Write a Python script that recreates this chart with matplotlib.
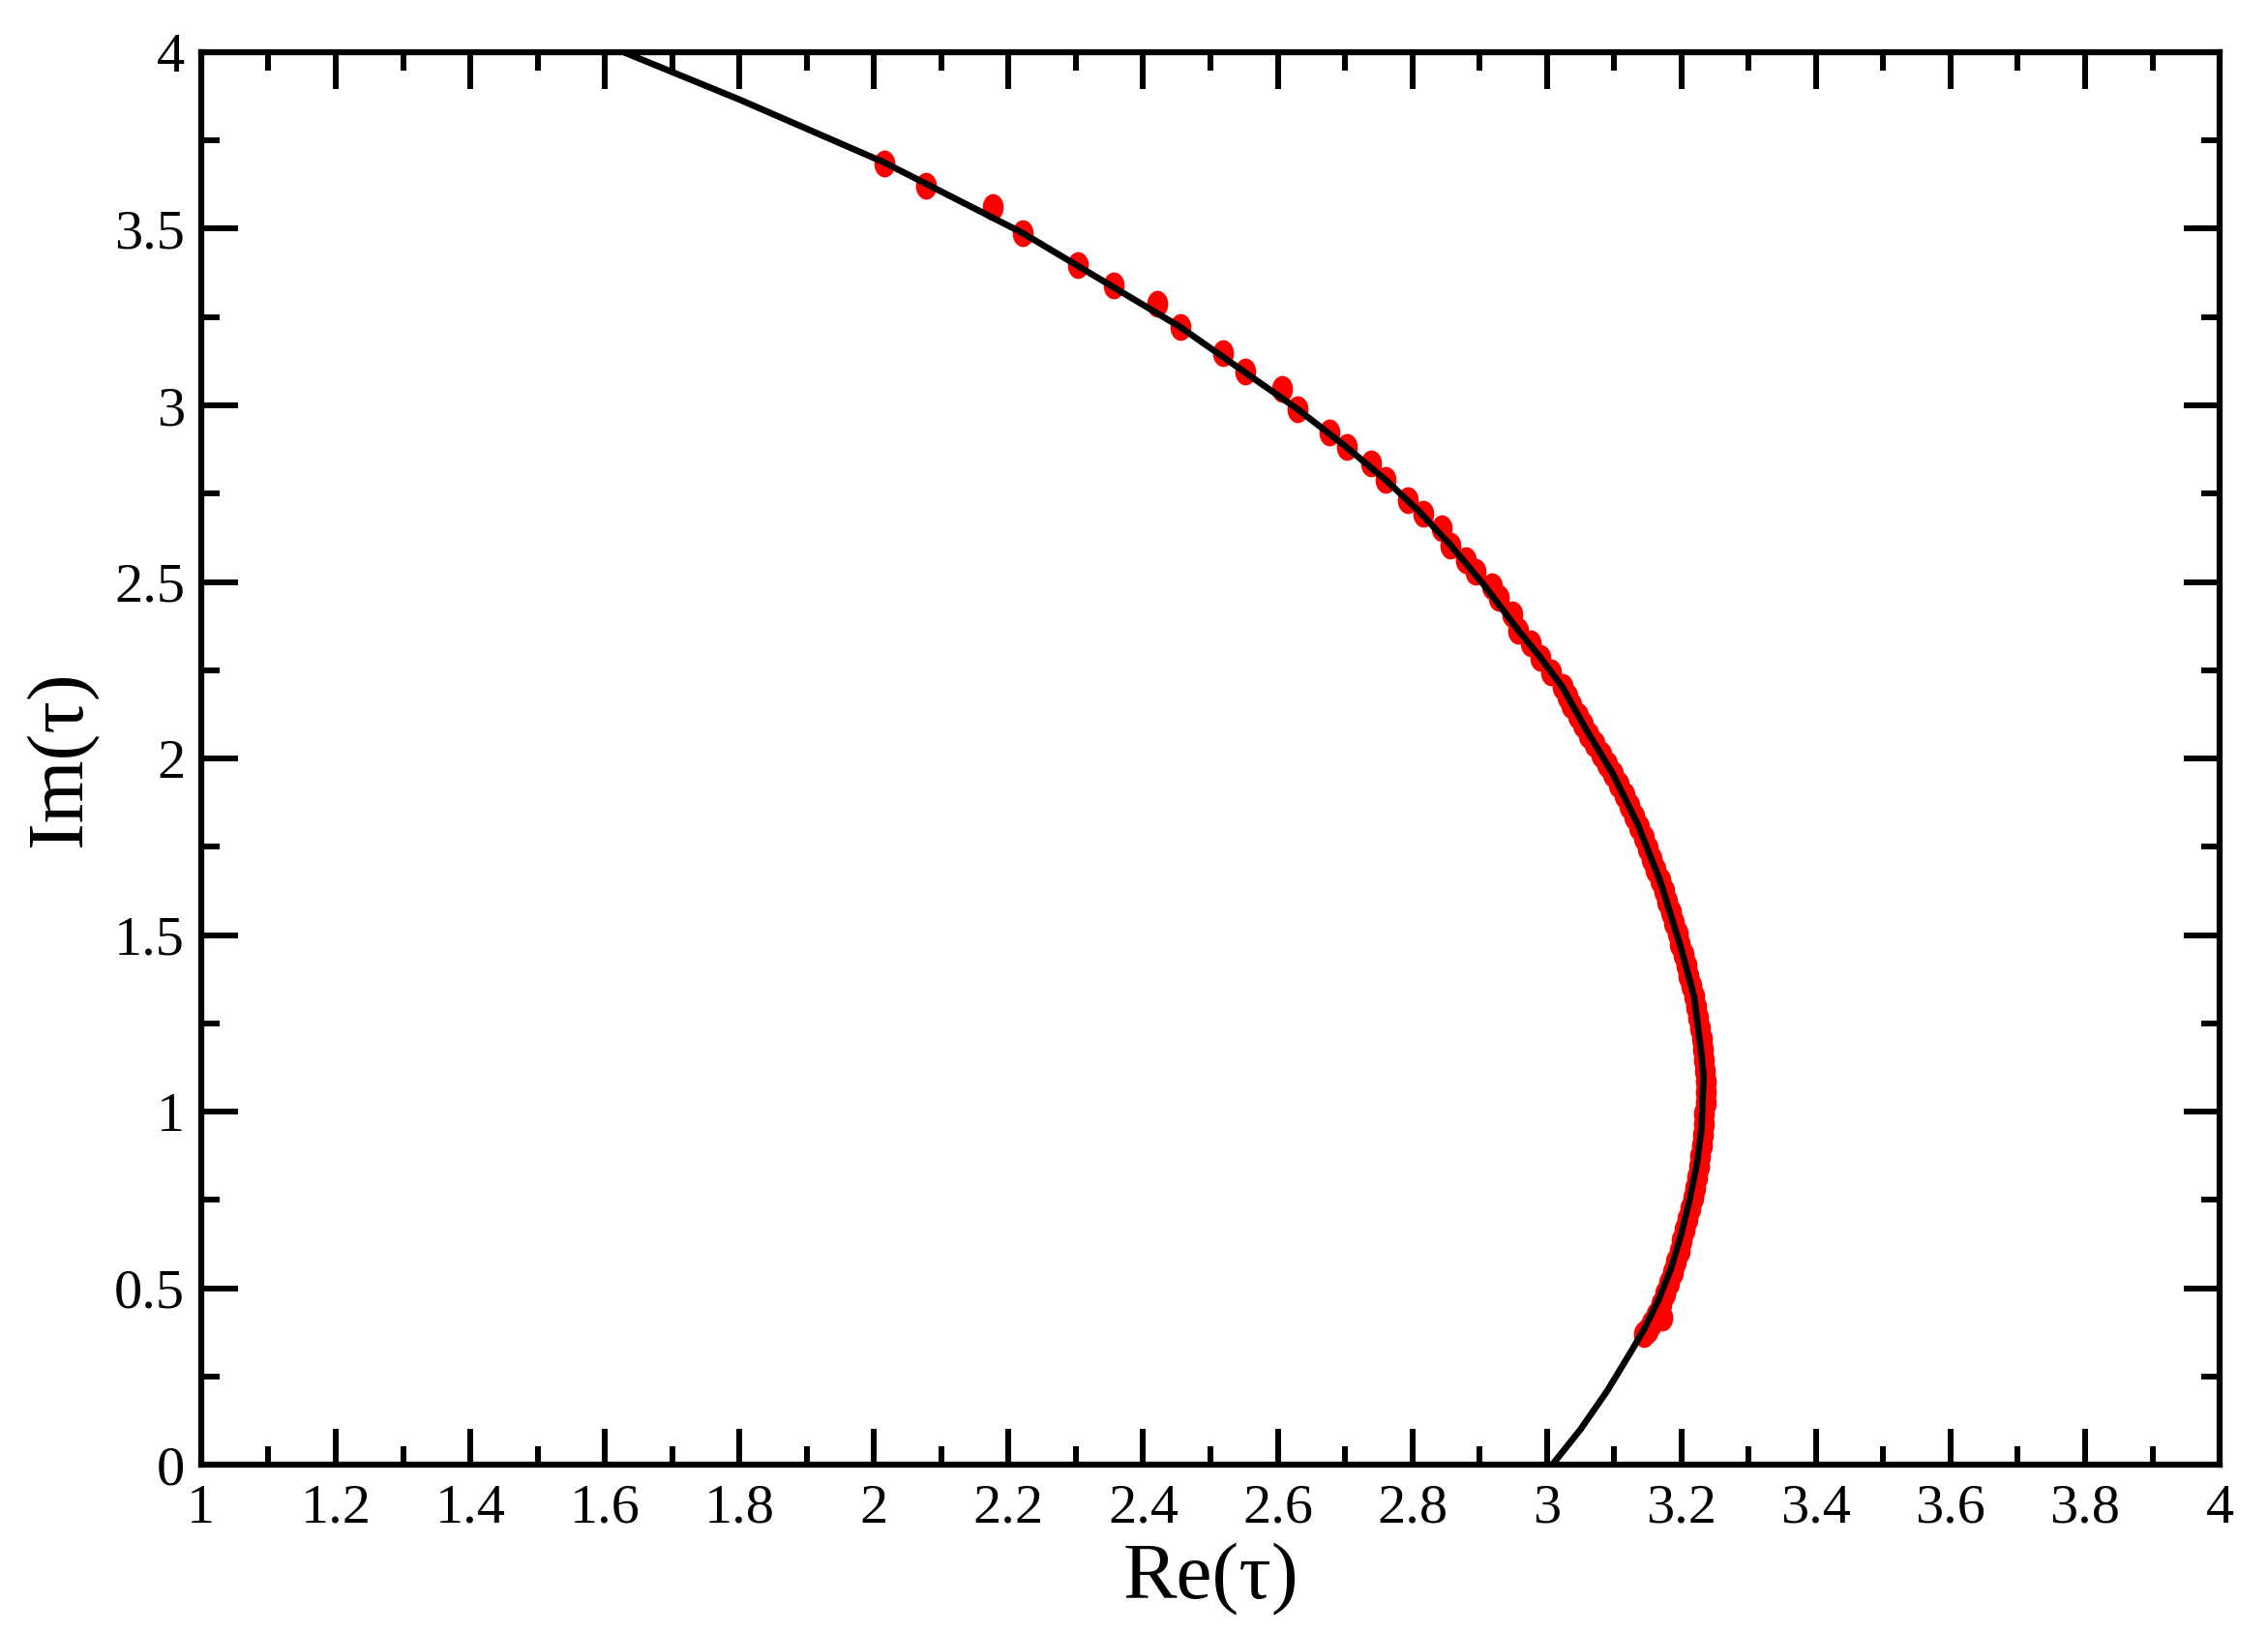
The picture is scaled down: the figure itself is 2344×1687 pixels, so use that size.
import numpy as np
import matplotlib.pyplot as plt
from matplotlib.markers import MarkerStyle
from matplotlib.transforms import Affine2D
from matplotlib.ticker import MultipleLocator, FormatStrFormatter

plt.rcParams['font.family'] = ['Liberation Serif', 'DejaVu Serif']

# curva (linha preta)
re_curve = [1.600, 1.800, 2.015, 2.221, 2.455, 2.629, 2.700, 2.761, 2.810, 2.857,
            2.908, 2.958, 2.990, 3.023, 3.059, 3.098, 3.135, 3.169, 3.199, 3.219,
            3.230, 3.233, 3.232, 3.230, 3.223, 3.212, 3.199, 3.184, 3.167, 3.145,
            3.125, 3.090, 3.050, 3.008, 2.990]
im_curve = [4.022, 3.866, 3.688, 3.488, 3.222, 2.990, 2.885, 2.788, 2.700, 2.604,
            2.488, 2.362, 2.287, 2.203, 2.080, 1.957, 1.814, 1.650, 1.466, 1.325,
            1.159, 1.100, 1.056, 0.954, 0.852, 0.749, 0.647, 0.553, 0.471, 0.385,
            0.320, 0.210, 0.100, 0.000, -0.040]

# pontos (vermelho)
re_pts = [2.015, 2.077, 2.176, 2.221, 2.303, 2.356, 2.421, 2.455, 2.518, 2.552,
          2.606, 2.629, 2.677, 2.703, 2.739, 2.761, 2.793, 2.817, 2.844, 2.857,
          2.879, 2.894, 2.918, 2.928, 2.948, 2.958, 2.976, 2.991, 3.006, 3.023,
          3.030, 3.037, 3.046, 3.054, 3.063, 3.071, 3.081, 3.089, 3.098, 3.107,
          3.115, 3.123, 3.130, 3.137, 3.144, 3.150, 3.156, 3.162, 3.168, 3.174,
          3.179, 3.184, 3.189, 3.194, 3.198, 3.203, 3.207, 3.211, 3.215, 3.219,
          3.222, 3.225, 3.228, 3.230, 3.232, 3.234, 3.235, 3.236, 3.236, 3.236,
          3.234, 3.233, 3.232, 3.230, 3.228, 3.226, 3.223, 3.220, 3.217, 3.213,
          3.209, 3.205, 3.201, 3.197, 3.192, 3.187, 3.182, 3.176, 3.170, 3.163,
          3.156, 3.150, 3.144, 3.171]
im_pts = [3.685, 3.623, 3.562, 3.488, 3.398, 3.341, 3.288, 3.222, 3.148, 3.095,
          3.046, 2.989, 2.923, 2.882, 2.837, 2.788, 2.731, 2.694, 2.653, 2.604,
          2.563, 2.530, 2.489, 2.456, 2.407, 2.362, 2.325, 2.285, 2.244, 2.203,
          2.175, 2.150, 2.120, 2.095, 2.065, 2.040, 2.010, 1.985, 1.955, 1.925,
          1.895, 1.865, 1.835, 1.805, 1.775, 1.745, 1.715, 1.685, 1.655, 1.625,
          1.595, 1.565, 1.535, 1.505, 1.475, 1.445, 1.415, 1.385, 1.355, 1.325,
          1.295, 1.265, 1.235, 1.205, 1.175, 1.145, 1.115, 1.085, 1.055, 1.025,
          0.995, 0.965, 0.935, 0.905, 0.875, 0.845, 0.815, 0.785, 0.755, 0.725,
          0.695, 0.665, 0.635, 0.605, 0.575, 0.545, 0.515, 0.485, 0.455, 0.425,
          0.400, 0.380, 0.370, 0.418]

fig = plt.figure(figsize=(23.44, 16.87), dpi=100)
ax = fig.add_axes([0.0887, 0.1025, 0.89, 0.8655])

# marcador um pouco achatado na horizontal, como na figura original
dot = MarkerStyle('o', transform=Affine2D().scale(0.78, 1.0))
ax.plot(re_pts, im_pts, linestyle='none', marker=dot, color='red',
        markersize=20, markeredgewidth=0)
ax.plot(re_curve, im_curve, '-', color='black', linewidth=4.8)

ax.set_xlim(1, 4)
ax.set_ylim(0, 4)
ax.xaxis.set_major_locator(MultipleLocator(0.2))
ax.xaxis.set_minor_locator(MultipleLocator(0.1))
ax.yaxis.set_major_locator(MultipleLocator(0.5))
ax.yaxis.set_minor_locator(MultipleLocator(0.25))
ax.xaxis.set_major_formatter(FormatStrFormatter('%g'))
ax.yaxis.set_major_formatter(FormatStrFormatter('%g'))

ax.tick_params(which='both', direction='in', top=True, right=True, width=4.3)
ax.tick_params(which='major', length=27)
ax.tick_params(which='minor', length=14)
ax.tick_params(axis='x', which='major', labelsize=42, pad=14)
ax.tick_params(axis='y', which='major', labelsize=42, pad=12)
for s in ax.spines.values():
    s.set_linewidth(4.5)

ax.set_xlabel('Re(τ)', fontsize=60, labelpad=7)
ax.set_ylabel('Im(τ)', fontsize=60, labelpad=12)

fig.savefig('out.png', dpi=100)
